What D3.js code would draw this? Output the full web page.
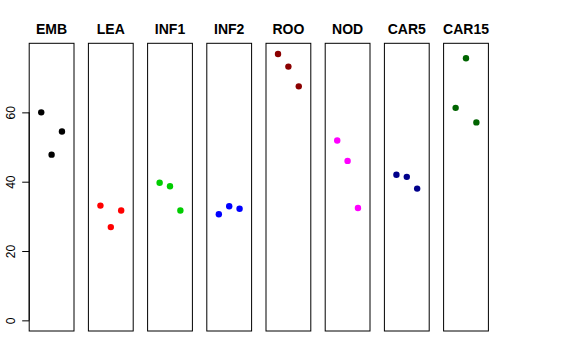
<!DOCTYPE html>
<html>
<head>
<meta charset="utf-8">
<script src="https://cdn.jsdelivr.net/npm/d3@7"></script>
<style>
html, body { margin: 0; padding: 0; background: #fff; }
svg { display: block; font-family: "Liberation Sans", Arial, Helvetica, sans-serif; }
</style>
</head>
<body>
<svg id="chart" width="576" height="360"></svg>
<script>
const categories = ["EMB", "LEA", "INF1", "INF2", "ROO", "NOD", "CAR5", "CAR15"];
const valuesEMB   = [60.0, 47.8, 54.5];
const valuesLEA   = [33.1, 26.9, 31.7];
const valuesINF1  = [39.7, 38.7, 31.7];
const valuesINF2  = [30.6, 32.9, 32.2];
const valuesROO   = [76.85, 73.2, 67.5];
const valuesNOD   = [51.9, 46.0, 32.4];
const valuesCAR5  = [42.0, 41.4, 38.0];
const valuesCAR15 = [61.3, 75.6, 57.1];
const colors = ["#000000", "#FF0000", "#00CD00", "#0000FF", "#8B0000", "#FF00FF", "#00008B", "#006400"];
const yTicks = [0, 20, 40, 60];

const series = [valuesEMB, valuesLEA, valuesINF1, valuesINF2, valuesROO, valuesNOD, valuesCAR5, valuesCAR15];

const svg = d3.select("#chart");
const plotTop = 43.3, plotBottom = 331;
const left0 = 29.2, pitch = 59.2, pw = 44.8;

const yMax = d3.max(series.flat());
const yPad = 0.04 * yMax;
const y = d3.scaleLinear().domain([-yPad, yMax + yPad]).range([plotBottom, plotTop]);

series.forEach((vals, i) => {
  const L = left0 + i * pitch;
  const x = d3.scaleLinear().domain([-0.16, 4.16]).range([L, L + pw]);
  const g = svg.append("g");
  g.selectAll("circle").data(vals).enter().append("circle")
    .attr("cx", (d, j) => x(j + 1))
    .attr("cy", d => y(d))
    .attr("r", 3.2)
    .attr("fill", colors[i]);
  g.append("rect")
    .attr("x", L).attr("y", plotTop)
    .attr("width", pw).attr("height", plotBottom - plotTop)
    .attr("fill", "none").attr("stroke", "#000").attr("stroke-width", 1);
  g.append("text")
    .attr("x", L + pw / 2).attr("y", 34.3)
    .attr("text-anchor", "middle")
    .attr("font-weight", "bold")
    .attr("font-size", 14)
    .text(categories[i]);
});

const axis = d3.axisLeft(y).tickValues(yTicks).tickSize(7).tickPadding(0).tickFormat(d3.format("d"));
const ag = svg.append("g").attr("transform", `translate(${left0},0)`).call(axis);
ag.select(".domain").remove();
ag.append("line")
  .attr("x1", 0).attr("x2", 0)
  .attr("y1", y(yTicks[0])).attr("y2", y(yTicks[yTicks.length - 1]))
  .attr("stroke", "#000");
ag.selectAll(".tick line").attr("stroke", "#000");
ag.selectAll(".tick text")
  .attr("x", null).attr("dy", null)
  .attr("font-size", 12)
  .attr("font-family", "Liberation Sans, Arial, sans-serif")
  .attr("fill", "#000")
  .attr("text-anchor", "middle")
  .attr("transform", "translate(-14.6,0) rotate(-90)");
</script>
</body>
</html>
